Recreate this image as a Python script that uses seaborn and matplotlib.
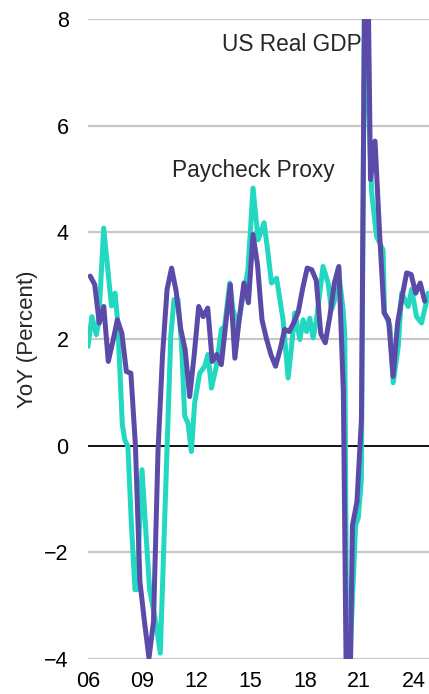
import matplotlib
matplotlib.use("Agg")
import matplotlib.pyplot as plt
import seaborn as sns
import pandas as pd
import numpy as np

# US Real GDP, YoY %, quarterly 2006Q1 .. 2024Q3
gdp_start_year = 2006
gdp_values = [
    3.18, 3.02, 2.30, 2.61,   # 2006
    1.58, 1.95, 2.36, 2.11,   # 2007
    1.39, 1.36, 0.00, -2.55,  # 2008
    -3.30, -3.98, -3.30, -0.10,  # 2009
    1.70, 2.93, 3.33, 2.90,   # 2010
    2.20, 1.80, 0.92, 1.70,   # 2011
    2.61, 2.42, 2.58, 1.58,   # 2012
    1.71, 1.52, 2.30, 3.02,   # 2013
    1.64, 2.40, 3.05, 2.68,   # 2014
    3.96, 3.40, 2.36, 2.00,   # 2015
    1.70, 1.49, 1.80, 2.18,   # 2016
    2.14, 2.30, 2.50, 2.95,   # 2017
    3.33, 3.30, 3.10, 2.10,   # 2018
    1.93, 2.42, 3.05, 3.36,   # 2019
    1.00, -7.50, -1.50, -1.05,  # 2020
    0.50, 12.00, 4.99, 5.71,  # 2021
    4.00, 2.49, 2.36, 1.30,   # 2022
    2.30, 2.80, 3.24, 3.21,   # 2023
    2.86, 3.05, 2.71,         # 2024
]

# Paycheck Proxy, YoY %, dates as decimal years
pay_dates = [
    2006.00, 2006.22, 2006.46, 2006.59, 2006.87, 2007.30, 2007.50, 2007.65,
    2007.90, 2008.03, 2008.21, 2008.40, 2008.60, 2008.70, 2008.99, 2009.23,
    2009.41, 2009.75, 2010.00, 2010.38, 2010.58, 2010.76, 2010.98, 2011.17,
    2011.35, 2011.53, 2011.72, 2011.90, 2012.18, 2012.46, 2012.64, 2012.83,
    2013.10, 2013.38, 2013.56, 2013.84, 2014.02, 2014.30, 2014.58, 2014.85,
    2015.13, 2015.41, 2015.74, 2015.96, 2016.15, 2016.43, 2016.79, 2017.07,
    2017.26, 2017.44, 2017.72, 2017.90, 2018.09, 2018.27, 2018.45, 2018.64,
    2019.00, 2019.28, 2019.47, 2019.65, 2019.84, 2020.11, 2020.20, 2020.35,
    2020.55, 2020.80, 2020.95, 2021.12, 2021.30, 2021.50, 2021.69, 2021.96,
    2022.32, 2022.40, 2022.70, 2022.88, 2023.16, 2023.35, 2023.71, 2023.90,
    2024.17, 2024.45, 2024.82,
]
pay_values = [
    1.86, 2.42, 2.08, 2.30, 4.08, 2.62, 2.86, 2.30,
    0.40, 0.12, -0.02, -1.45, -2.70, -2.70, -0.45, -1.76,
    -2.70, -3.30, -3.89, 0.00, 2.05, 2.74, 2.74, 1.93,
    0.55, 0.43, -0.11, 0.80, 1.36, 1.49, 1.71, 1.08,
    1.49, 2.18, 2.24, 3.05, 2.55, 2.24, 2.80, 3.30,
    4.83, 3.86, 4.18, 3.60, 3.05, 3.14, 2.36, 1.27,
    1.86, 2.49, 1.99, 2.36, 2.14, 2.39, 2.02, 2.36,
    3.36, 3.05, 2.55, 2.74, 3.33, 2.55, 2.11, -6.00,
    -3.50, -1.50, -1.35, -0.64, 9.00, 6.50, 4.74, 3.92,
    3.67, 2.50, 2.24, 1.18, 1.86, 2.86, 2.61, 2.93,
    2.42, 2.30, 2.86,
]

y_ticks = [-4, -2, 0, 2, 4, 6, 8]
x_ticks = [2006, 2009, 2012, 2015, 2018, 2021, 2024]
x_ticklabels = ["06", "09", "12", "15", "18", "21", "24"]

teal = "#22d8c1"
purple = "#5b4aa7"

sns.set_style("white")
plt.rcParams["font.family"] = ["Liberation Sans", "DejaVu Sans"]

gdp_dates = [gdp_start_year + i / 4 + 0.125 for i in range(len(gdp_values))]
gdp_df = pd.DataFrame({"date": gdp_dates, "value": gdp_values})
pay_df = pd.DataFrame({"date": pay_dates, "value": pay_values})

fig = plt.figure(figsize=(4.29, 6.94), dpi=100)
ax = fig.add_axes([0.205, 0.0504, 0.795, 0.9222])

for y in y_ticks:
    if y == 0:
        ax.axhline(y, color="black", lw=1.3, zorder=1)
    else:
        ax.axhline(y, color="#c8c8c8", lw=1.6, zorder=1)

sns.lineplot(data=pay_df, x="date", y="value", ax=ax, color=teal, lw=3.6,
             zorder=3, sort=False)
sns.lineplot(data=gdp_df, x="date", y="value", ax=ax, color=purple, lw=3.6,
             zorder=4, sort=False)

ax.set_xlim(2006.0, 2024.86)
ax.set_ylim(-4, 8)
ax.set_yticks(y_ticks)
ax.set_yticklabels([f"{v}".replace("-", "\u2212") for v in y_ticks])
ax.set_xticks(x_ticks)
ax.set_xticklabels(x_ticklabels)
ax.tick_params(axis="both", length=0, labelsize=15.5, colors="black")
ax.tick_params(axis="y", pad=14)
ax.tick_params(axis="x", pad=8.5)
for s in ax.spines.values():
    s.set_visible(False)
ax.set_xlabel("")
ax.set_ylabel("YoY (Percent)", fontsize=16, labelpad=4)

ax.text(2017.27, 7.52, "US Real GDP", fontsize=16.3, ha="center", va="center")
ax.text(2015.17, 5.16, "Paycheck Proxy", fontsize=16.3, ha="center", va="center")

fig.savefig("out.png", dpi=100)
